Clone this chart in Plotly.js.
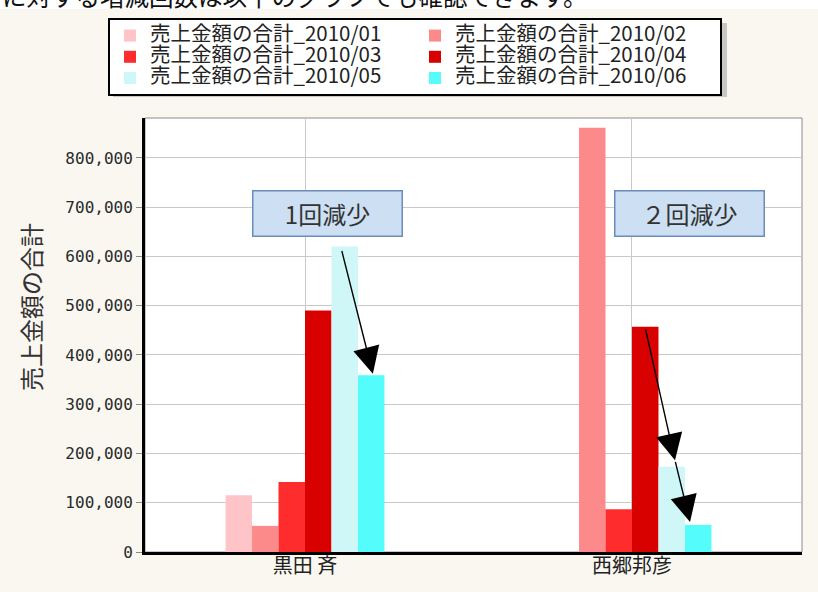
<!DOCTYPE html>
<html>
<head>
<meta charset="utf-8">
<script src="https://cdn.plot.ly/plotly-3.0.1.min.js"></script>
<style>
  html, body { margin: 0; padding: 0; background: #ffffff; }
  #chart { width: 818px; height: 592px; }
</style>
</head>
<body>
<div id="chart"></div>
<script>
// ---- data ----
const categories = ['黒田 斉', '西郷邦彦'];
const seriesNames = [
  '売上金額の合計_2010/01', '売上金額の合計_2010/02',
  '売上金額の合計_2010/03', '売上金額の合計_2010/04',
  '売上金額の合計_2010/05', '売上金額の合計_2010/06'
];
const values2010_01 = [115000, 0];
const values2010_02 = [53000, 861000];
const values2010_03 = [142000, 87000];
const values2010_04 = [490000, 457000];
const values2010_05 = [620000, 173000];
const values2010_06 = [359000, 55000];
const yTitle = '売上金額の合計';
const headText = 'に対する増減回数は以下のグラフでも確認できます。';
const noteKuroda = '1回減少';
const noteSaigo = '２回減少';

// ---- style ----
const colors = ['#fec4c7', '#fd8a8a', '#fe2c2c', '#d90000', '#cff7f8', '#55fcfc'];
const allValues = [values2010_01, values2010_02, values2010_03, values2010_04, values2010_05, values2010_06];

const traces = allValues.map((vals, i) => ({
  type: 'bar',
  name: '<span style="font-size:20.5px">' + seriesNames[i] + '</span>',
  x: categories,
  y: vals,
  marker: { color: colors[i], line: { width: 0 } },
  hoverinfo: 'skip'
}));

// plot-area geometry in px (for paper-positioned layout items)
const PL = 145, PR = 802, PT = 118, PB = 552;
const W = 818, H = 592;
const px2x = p => (p - PL) / (PR - PL);
const px2y = p => (PB - p) / (PB - PT);

const bargap = 0.514;
const nSeries = allValues.length;
const barW = (1 - bargap) / nSeries;
const barCenter = (cat, i) => cat - (1 - bargap) / 2 + barW * (i + 0.5);

const arrowStyle = {
  xref: 'x', yref: 'y', axref: 'x', ayref: 'y',
  showarrow: true, arrowhead: 2, arrowsize: 3.8, arrowwidth: 1.4,
  arrowcolor: '#000000', text: ''
};

const layout = {
  width: W, height: H,
  margin: { l: PL, r: W - PR, t: PT, b: H - PB, pad: 0 },
  paper_bgcolor: '#f9f7f0',
  plot_bgcolor: '#ffffff',
  barmode: 'group',
  bargap: bargap,
  bargroupgap: 0,
  font: { family: '"Noto Sans CJK JP", sans-serif', color: '#222' },
  showlegend: true,
  legend: {
    orientation: 'h',
    x: px2x(108), xanchor: 'left',
    y: px2y(18), yanchor: 'top',
    bgcolor: '#ffffff',
    bordercolor: '#000000',
    borderwidth: 2,
    font: { size: 14, color: '#222', family: '"Noto Sans CJK JP", sans-serif' },
    entrywidth: 260,
    traceorder: 'normal'
  },
  xaxis: {
    type: 'category',
    range: [-0.4893, 1.5199],
    showgrid: true, gridcolor: '#c8c8c8', gridwidth: 1,
    showline: true, linecolor: '#000000', linewidth: 3,
    ticks: '', ticklabelstandoff: -6,
    tickfont: { size: 20, color: '#222' },
    fixedrange: true
  },
  yaxis: {
    range: [0, 881000],
    dtick: 100000, tick0: 0,
    tickformat: ',d',
    showgrid: true, gridcolor: '#c8c8c8', gridwidth: 1,
    showline: true, linecolor: '#000000', linewidth: 3,
    ticks: 'outside', ticklen: 6, tickcolor: '#888', tickwidth: 1,
    tickfont: { size: 16, color: '#2a2a2a', family: '"DejaVu Sans Mono", monospace' },
    zeroline: false,
    fixedrange: true
  },
  shapes: [
    // white strip behind the cut-off page sentence
    { type: 'rect', xref: 'paper', yref: 'paper', layer: 'below',
      x0: px2x(0), x1: px2x(W), y0: px2y(9), y1: px2y(0),
      fillcolor: '#ffffff', line: { width: 0 } },
    // legend drop shadow
    { type: 'rect', xref: 'paper', yref: 'paper', layer: 'above',
      x0: px2x(113), x1: px2x(727), y0: px2y(97), y1: px2y(23),
      fillcolor: '#a0a0a0', opacity: 0.55, line: { width: 0 } },
    // thin grey frame on top/right of plot area
    { type: 'rect', xref: 'paper', yref: 'paper', layer: 'below',
      x0: 0, x1: 1, y0: 0, y1: 1,
      line: { color: '#8a8a8a', width: 1 } }
  ],
  annotations: [
    { text: yTitle, xref: 'paper', yref: 'paper',
      x: px2x(30), y: px2y(307), textangle: -90, showarrow: false,
      xanchor: 'center', yanchor: 'middle',
      font: { size: 24, color: '#333' } },
    { text: headText, xref: 'paper', yref: 'paper',
      x: px2x(0), y: px2y(-5), xanchor: 'left', yanchor: 'middle', showarrow: false,
      font: { size: 24.5, color: '#111' } },
    { text: noteKuroda, xref: 'paper', yref: 'paper',
      x: px2x(327), y: px2y(213.5), showarrow: false,
      xanchor: 'center', yanchor: 'middle',
      width: 146, height: 42, borderpad: 1,
      bgcolor: '#cddff2', bordercolor: '#6a8cbc', borderwidth: 1.5,
      font: { size: 24, color: '#333' } },
    { text: noteSaigo, xref: 'paper', yref: 'paper',
      x: px2x(689.5), y: px2y(213.5), showarrow: false,
      xanchor: 'center', yanchor: 'middle',
      width: 146, height: 42, borderpad: 1,
      bgcolor: '#cddff2', bordercolor: '#6a8cbc', borderwidth: 1.5,
      font: { size: 24, color: '#333' } },
    // arrow: 黒田 05 -> 06
    Object.assign({}, arrowStyle, {
      ax: barCenter(0, 4) - 0.01, ay: values2010_05[0] - 6000,
      x: barCenter(0, 5) + 0.005, y: values2010_06[0] + 3000
    }),
    // arrow: 西郷 04 -> 05
    Object.assign({}, arrowStyle, {
      ax: barCenter(1, 3), ay: values2010_04[1] - 2000,
      x: barCenter(1, 4) + 0.01, y: values2010_05[1] + 13000
    }),
    // arrow: 西郷 05 -> 06
    Object.assign({}, arrowStyle, {
      ax: barCenter(1, 4) + 0.01, ay: values2010_05[1] + 13000,
      x: barCenter(1, 5) - 0.025, y: values2010_06[1] + 6000
    })
  ]
};

Plotly.newPlot('chart', traces, layout, { displayModeBar: false, staticPlot: true });
</script>
</body>
</html>
